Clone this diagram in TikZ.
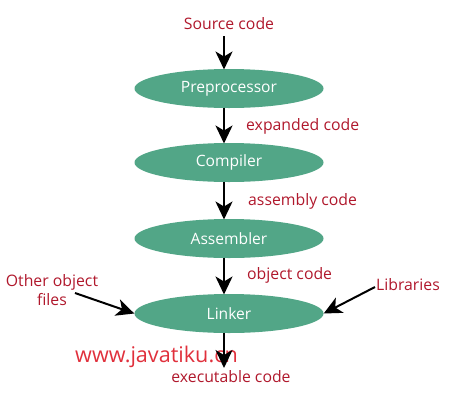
\documentclass[tikz,border=0pt]{standalone}
\usepackage{fontspec}
\setmainfont{Open Sans}
\usetikzlibrary{arrows.meta,shapes.geometric}
\definecolor{stagegreen}{HTML}{52A687}
\definecolor{labelred}{HTML}{B0182C}
\definecolor{markred}{HTML}{E0303C}
\tikzset{
  stage/.style={ellipse, fill=stagegreen, minimum width=189pt, minimum height=39pt, inner sep=0pt, text=white, font=\fontsize{15.6}{18}\selectfont},
  lbl/.style={text=labelred, font=\fontsize{15.8}{18.5}\selectfont, inner sep=0pt},
  flow/.style={line width=2pt, -{Stealth[length=18pt, width=17pt, inset=5pt]}},
}
\begin{document}
\begin{tikzpicture}[x=1pt,y=-1pt]
\useasboundingbox (0,0) rectangle (450,400);
\node[lbl] (src) at (229,24) {Source code};
\node[stage] (pre) at (229,88.5) {Preprocessor};
\node[stage] (comp) at (229,162.5) {Compiler};
\node[stage] (asm) at (229,238.5) {Assembler};
\node[stage] (link) at (229,313.5) {Linker};
\node[lbl, anchor=west] (exp) at (246,126) {expanded code};
\node[lbl, anchor=west] (asmc) at (248,201) {assembly code};
\node[lbl, anchor=west] (objc) at (247,275) {object code};
\node[lbl, align=center] (other) at (52,290) {Other object\\files};
\node[lbl] (libs) at (408,285) {Libraries};
\node[lbl] (exe) at (231,377) {executable code};
\node[text=markred, font=\fontsize{21.6}{24}\selectfont, inner sep=0pt] (mark) at (156.5,357) {www.javatiku.cn};
\coordinate (srcb) at (224,36);
\coordinate (prein) at (224,69.5);
\coordinate (preout) at (224,107.5);
\coordinate (compin) at (224,143.5);
\coordinate (compout) at (224,181.5);
\coordinate (asmin) at (224,219.5);
\coordinate (asmout) at (224,257.5);
\coordinate (linkin) at (224,294.5);
\coordinate (linkout) at (224,332.5);
\coordinate (exein) at (224,368);
\coordinate (otherend) at (75,293);
\coordinate (libsend) at (375,287);
\draw[flow] (srcb) -- (prein);
\draw[flow] (preout) -- (compin);
\draw[flow] (compout) -- (asmin);
\draw[flow] (asmout) -- (linkin);
\draw[flow] (linkout) -- (exein);
\draw[flow] (otherend) -- (link.west);
\draw[flow] (libsend) -- (link.east);
\end{tikzpicture}
\end{document}
